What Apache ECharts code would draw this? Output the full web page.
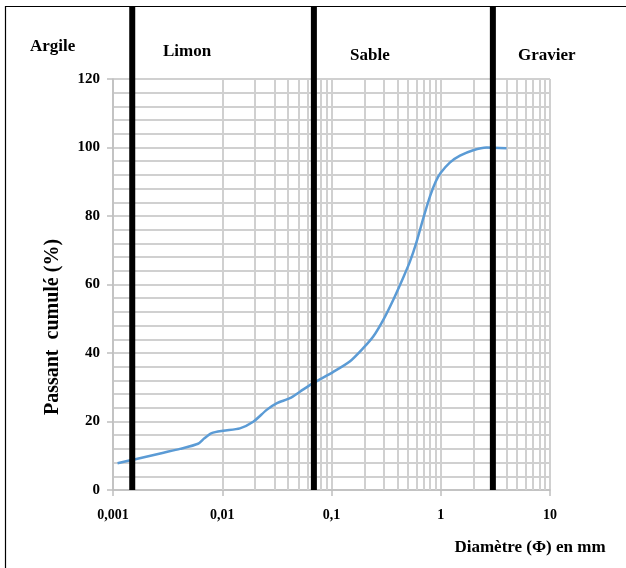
<!DOCTYPE html>
<html>
<head>
<meta charset="utf-8">
<script src="https://cdn.jsdelivr.net/npm/echarts@6/dist/echarts.min.js"></script>
<style>
  html, body { margin: 0; padding: 0; background: #fff; }
  #chart { width: 626px; height: 568px; }
</style>
</head>
<body>
<div id="chart"></div>
<script>
// grain size curve: diameter (mm) vs cumulative passing (%)
const diameters = [0.0011, 0.0016, 0.0029, 0.0041, 0.006, 0.0068, 0.008, 0.0102, 0.0145, 0.0192,
    0.0255, 0.0314, 0.0416, 0.0514, 0.066, 0.104, 0.147, 0.195, 0.241, 0.297, 0.367, 0.453,
    0.521, 0.6, 0.7, 0.8, 0.9, 1.0, 1.21, 1.5, 1.98, 2.62, 4.0];
const passing = [7.8, 9.0, 10.9, 12.0, 13.5, 15.0, 16.6, 17.3, 18.0, 19.9,
    23.4, 25.3, 26.8, 28.7, 31.0, 34.5, 37.5, 41.4, 44.8, 49.6, 55.5, 62.0,
    66.6, 72.4, 79.9, 85.9, 90.1, 92.6, 95.6, 97.6, 99.2, 100, 99.8];

// class boundaries (mm) and their names
const boundaries = [0.0015, 0.069, 3];
const classNames = ['Argile', 'Limon', 'Sable', 'Gravier'];

const xTickLabels = ['0,001', '0,01', '0,1', '1', '10'];

const serif = 'Liberation Serif';
const gridColor = '#d0d0d0';

// minor log grid lines 2..9 of every decade
let minorValues = [];
for (let k = -3; k <= 0; k++) {
    for (let m = 2; m <= 9; m++) {
        minorValues.push(Number((m * Math.pow(10, k)).toPrecision(3)));
    }
}

let chartDom = document.getElementById('chart');
let myChart = echarts.init(chartDom);

let option = {
    animation: false,
    grid: { left: 113, right: 76, top: 79, bottom: 78 },
    xAxis: {
        type: 'log',
        logBase: 10,
        min: 0.001,
        max: 10,
        axisLine: { show: true, lineStyle: { color: '#bfbfbf', width: 1.5 } },
        axisTick: { show: true, length: 6, lineStyle: { color: '#bfbfbf', width: 1.5 } },
        axisLabel: {
            margin: 18,
            fontFamily: serif,
            fontWeight: 'bold',
            fontSize: 14,
            color: '#000',
            formatter: v => xTickLabels[Math.round(Math.log10(v)) + 3]
        },
        splitLine: { show: true, lineStyle: { color: gridColor, width: 2 } }
    },
    yAxis: {
        type: 'value',
        min: 0,
        max: 120,
        interval: 20,
        axisLine: { show: true, lineStyle: { color: '#bfbfbf', width: 1.5 } },
        axisTick: { show: true, length: 6, lineStyle: { color: '#bfbfbf', width: 1.5 } },
        axisLabel: {
            margin: 13,
            fontFamily: serif,
            fontWeight: 'bold',
            fontSize: 15,
            color: '#000'
        },
        splitLine: { show: true, lineStyle: { color: gridColor, width: 2 } },
        minorTick: { show: false, splitNumber: 5 },
        minorSplitLine: { show: true, lineStyle: { color: gridColor, width: 2 } }
    },
    series: [
        {
            type: 'line',
            data: [],
            z: 1,
            silent: true,
            markLine: {
                z: 1,
                silent: true,
                symbol: ['none', 'none'],
                label: { show: false },
                lineStyle: { color: gridColor, width: 2, type: 'solid' },
                data: minorValues.map(v => ({ xAxis: v }))
            }
        },
        {
            type: 'line',
            z: 3,
            smooth: 0.25,
            showSymbol: false,
            lineStyle: { color: '#5b9bd5', width: 2.5 },
            data: diameters.map((d, i) => [d, passing[i]])
        }
    ]
};

myChart.setOption(option);

// thick class boundary lines, placed through the axis scale
let yZero = myChart.convertToPixel({ yAxisIndex: 0 }, 0);
let elements = boundaries.map(b => {
    let x = myChart.convertToPixel({ xAxisIndex: 0 }, b);
    return {
        type: 'line',
        z: 100,
        shape: { x1: x, y1: 6, x2: x, y2: yZero },
        style: { stroke: '#000', lineWidth: 6 }
    };
});

// frame (left and top edges)
elements.push({ type: 'line', z: 100, shape: { x1: 5.5, y1: 6, x2: 5.5, y2: 568 }, style: { stroke: '#000', lineWidth: 1.2 } });
elements.push({ type: 'line', z: 100, shape: { x1: 5, y1: 6.5, x2: 626, y2: 6.5 }, style: { stroke: '#000', lineWidth: 1.2 } });

const classPos = [[30, 48], [163, 53], [350, 57], [518, 57]];
classNames.forEach((name, i) => {
    elements.push({
        type: 'text',
        z: 100,
        left: classPos[i][0],
        top: classPos[i][1] - 10,
        style: { text: name, fontFamily: serif, fontWeight: 'bold', fontSize: 17, fill: '#000' }
    });
});

elements.push({
    type: 'text',
    z: 100,
    x: 53,
    y: 327,
    rotation: Math.PI / 2,
    style: {
        text: 'Passant  cumulé (%)',
        fontFamily: serif,
        fontWeight: 'bold',
        fontSize: 20,
        fill: '#000',
        align: 'center',
        verticalAlign: 'middle'
    }
});

elements.push({
    type: 'text',
    z: 100,
    x: 530,
    y: 548,
    style: {
        text: 'Diamètre (Φ) en mm',
        fontFamily: serif,
        fontWeight: 'bold',
        fontSize: 17,
        fill: '#000',
        align: 'center',
        verticalAlign: 'middle'
    }
});

myChart.setOption({ graphic: { elements } });
</script>
</body>
</html>
